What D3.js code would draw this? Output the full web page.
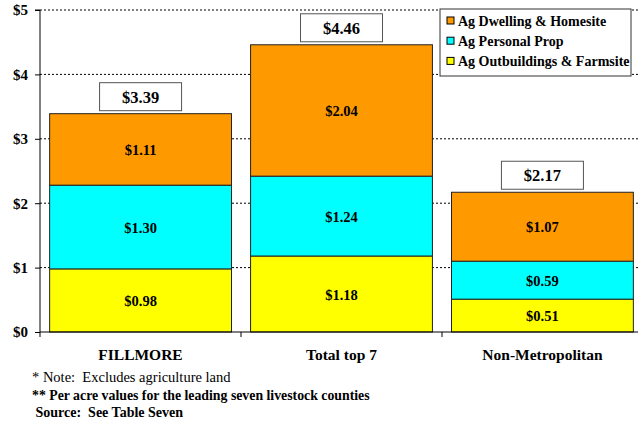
<!DOCTYPE html>
<html><head><meta charset="utf-8">
<script src="https://cdn.jsdelivr.net/npm/d3@7/dist/d3.min.js"></script>
<style>body{margin:0;background:#fff}svg{display:block}</style>
</head><body><svg id="c" width="638" height="421"></svg>
<script>
const categories = ["FILLMORE", "Total top 7", "Non-Metropolitan"];
const outbuildings = [0.98, 1.18, 0.51];
const personalProp = [1.30, 1.24, 0.59];
const dwelling = [1.11, 2.04, 1.07];
const totals = [3.39, 4.46, 2.17];
const seriesNames = ["Ag Dwelling & Homesite", "Ag Personal Prop", "Ag Outbuildings & Farmsite"];
const seriesColors = ["#FF9900", "#00FFFF", "#FFFF00"];
const yTicks = [0, 1, 2, 3, 4, 5];
const notes = ["* Note:  Excludes agriculture land", "** Per acre values for the leading seven livestock counties", " Source:  See Table Seven"];

const FONT = "'Liberation Serif', 'Times New Roman', serif";
const svg = d3.select("#c").style("font-family", FONT).style("font-weight", "bold");
const pLeft = 40, pRight = 643, pTop = 10, pBottom = 332;
const x = d3.scaleBand().domain(categories).range([pLeft, pRight]).paddingInner(0.095).paddingOuter(0.048);
const xTick = d3.scaleBand().domain(categories).range([pLeft, pRight]);
const y = d3.scaleLinear().domain([0, 5]).range([pBottom, pTop]);

// gridlines
svg.append("g").selectAll("line").data(yTicks.filter(d => d > 0)).join("line")
  .attr("x1", pLeft).attr("x2", 638).attr("y1", d => y(d)).attr("y2", d => y(d))
  .attr("stroke", "#000").attr("stroke-width", 1).attr("stroke-dasharray", "2,2");

// stacks
const stackData = categories.map((c, i) => ({cat: c, o: outbuildings[i], p: personalProp[i], d: dwelling[i]}));
const stack = d3.stack().keys(["o", "p", "d"])(stackData);
const colorMap = {o: seriesColors[2], p: seriesColors[1], d: seriesColors[0]};
const g = svg.append("g");
stack.forEach(layer => {
  g.selectAll(null).data(layer).join("rect")
    .attr("x", d => x(d.data.cat)).attr("width", x.bandwidth())
    .attr("y", d => y(d[1])).attr("height", d => y(d[0]) - y(d[1]))
    .attr("fill", colorMap[layer.key]).attr("stroke", "#222").attr("stroke-width", 1);
  g.selectAll(null).data(layer).join("text")
    .attr("x", d => x(d.data.cat) + x.bandwidth() / 2)
    .attr("y", d => (y(d[0]) + y(d[1])) / 2 + 5.5)
    .attr("text-anchor", "middle").style("font-size", "14.5px")
    .text(d => "$" + (d[1] - d[0]).toFixed(2));
});

// total boxes
categories.forEach((c, i) => {
  const cx = x(c) + x.bandwidth() / 2;
  const by = y(totals[i]) - 3;
  svg.append("rect").attr("x", cx - 41).attr("y", by - 28).attr("width", 82).attr("height", 28)
    .attr("fill", "#fff").attr("stroke", "#555").attr("stroke-width", 1);
  svg.append("text").attr("x", cx).attr("y", by - 8).attr("text-anchor", "middle")
    .style("font-size", "16.5px").text("$" + totals[i].toFixed(2));
});

// y axis
const yAxis = d3.axisLeft(y).tickValues(yTicks).tickFormat(d => "$" + d).tickSize(5).tickPadding(7);
const ya = svg.append("g").attr("transform", `translate(${pLeft},0)`).call(yAxis);
ya.attr("font-family", null).attr("font-size", null);
ya.select(".domain").attr("stroke", "#000").attr("d", `M-5,${pTop}H0V${pBottom}`);
ya.selectAll("text").style("font-size", "15px").attr("fill", "#000");
ya.selectAll("line").attr("stroke", "#000");

// x axis
const xa = svg.append("g").attr("transform", `translate(0,${pBottom})`);
xa.append("line").attr("x1", pLeft).attr("x2", 638).attr("y1", 0).attr("y2", 0).attr("stroke", "#000");
xa.selectAll("line.t").data(categories).join("line").attr("class", "t")
  .attr("x1", d => xTick(d)).attr("x2", d => xTick(d)).attr("y1", 0).attr("y2", 5).attr("stroke", "#000");
xa.selectAll("text").data(categories).join("text")
  .attr("x", d => xTick(d) + xTick.bandwidth() / 2).attr("y", 28)
  .attr("text-anchor", "middle").style("font-size", "15.5px").text(d => d);

// legend
const lg = svg.append("g").attr("transform", "translate(440,9)");
lg.append("rect").attr("width", 191).attr("height", 67).attr("fill", "#fff").attr("stroke", "#333");
seriesNames.forEach((n, i) => {
  lg.append("rect").attr("x", 7).attr("y", 8 + i * 20.2).attr("width", 7).attr("height", 7)
    .attr("fill", seriesColors[i]).attr("stroke", "#000");
  lg.append("text").attr("x", 18).attr("y", 16.5 + i * 20.2).style("font-size", "14px").text(n);
});

// notes
const noteSizes = ["14.5px", "13.8px", "14px"];
notes.forEach((t, i) => {
  svg.append("text").attr("x", 32).attr("y", 382 + i * 17.5).style("font-size", noteSizes[i])
    .style("font-weight", i === 0 ? "normal" : "bold")
    .style("white-space", "pre").text(t);
});
</script></body></html>
